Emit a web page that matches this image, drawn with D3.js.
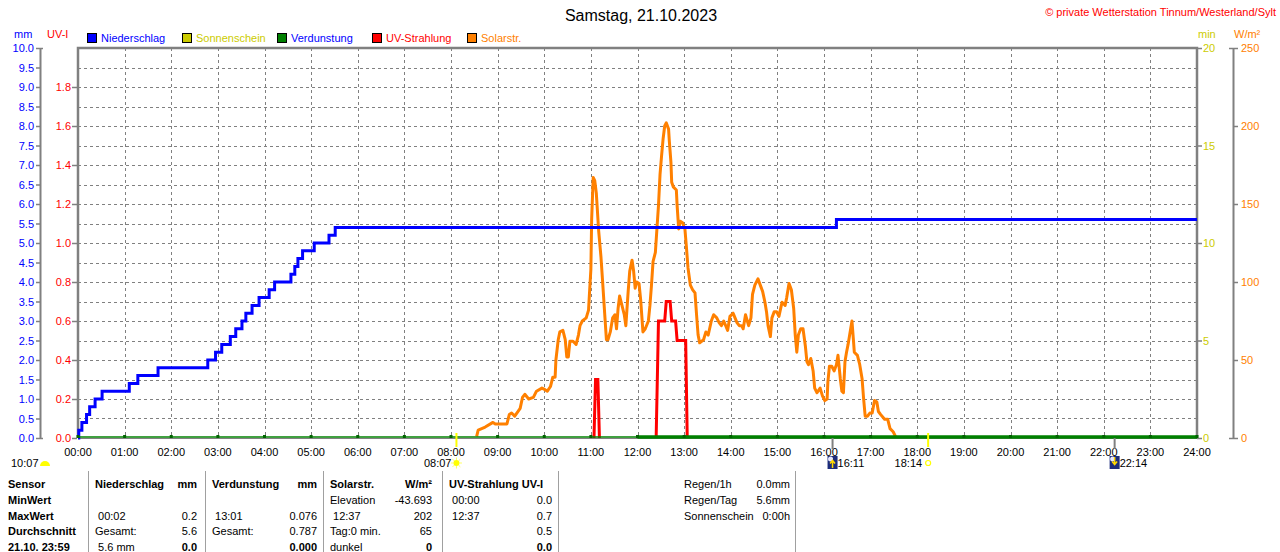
<!DOCTYPE html>
<html>
<head>
<meta charset="utf-8">
<script src="https://cdn.jsdelivr.net/npm/d3@7.9.0/dist/d3.min.js"></script>
<style>
  html, body { margin: 0; padding: 0; background: #fff; }
  svg { display: block; font-family: "Liberation Sans", Arial, sans-serif; font-size: 11px; }
  .axis text { font-size: 11px; }
</style>
</head>
<body>
<svg id="chart" width="1280" height="552"></svg>
<script>
// ---- data ----
const title = 'Samstag, 21.10.2023';
const credit = '\u00a9 private Wetterstation Tinnum/Westerland/Sylt';

const hourLabels = d3.range(0, 25).map(h => String(h).padStart(2, '0') + ':00');

const legendItems = [
  { name: 'Niederschlag', box: '#0000ff', text: '#0000ff' },
  { name: 'Sonnenschein', box: '#cccc00', text: '#cccc00' },
  { name: 'Verdunstung', box: '#008000', text: '#0000ff' },
  { name: 'UV-Strahlung', box: '#ff0000', text: '#ff0000' },
  { name: 'Solarstr.', box: '#ff8000', text: '#ff8000' }
];

// cumulative rain (mm), value valid from that time on
const rain = [
  ['00:00', 0], ['00:01', 0.2], ['00:05', 0.4], ['00:11', 0.6], ['00:15', 0.8],
  ['00:22', 1.0], ['00:31', 1.2], ['01:06', 1.4], ['01:17', 1.6], ['01:43', 1.8],
  ['02:47', 2.0], ['02:57', 2.2], ['03:05', 2.4], ['03:16', 2.6], ['03:23', 2.8],
  ['03:31', 3.0], ['03:36', 3.2], ['03:44', 3.4], ['03:53', 3.6], ['04:06', 3.8],
  ['04:13', 4.0], ['04:34', 4.2], ['04:39', 4.4], ['04:43', 4.6], ['04:49', 4.8],
  ['05:04', 5.0], ['05:23', 5.2], ['05:31', 5.4], ['16:16', 5.6], ['24:00', 5.6]
];

// evaporation, hourly (mm)
const verdHours = d3.range(0, 25);
const verdValues = verdHours.map(() => 0);

// UV index, null = no trace
const uv = [
  ['11:04', 0], ['11:06', 0.3], ['11:09', 0.3], ['11:11', 0], ['11:12', null],
  ['12:24', 0], ['12:27', 0.6], ['12:35', 0.6], ['12:37', 0.7], ['12:42', 0.7],
  ['12:44', 0.6], ['12:49', 0.6], ['12:51', 0.5], ['13:02', 0.5], ['13:04', 0]
];

// solar radiation (W/m²)
const solar = [
  ['08:33', 1], ['08:35', 5], ['08:44', 7], ['08:54', 10], ['08:57', 9], ['09:12', 9],
  ['09:15', 15], ['09:18', 16], ['09:22', 14], ['09:29', 19], ['09:32', 26], ['09:35', 28],
  ['09:40', 25], ['09:46', 26], ['09:50', 30], ['09:57', 32], ['10:01', 31], ['10:04', 30],
  ['10:08', 33], ['10:11', 39], ['10:14', 39], ['10:15', 50], ['10:18', 63], ['10:20', 68],
  ['10:24', 69], ['10:27', 63], ['10:29', 52], ['10:31', 52], ['10:33', 62], ['10:37', 62],
  ['10:41', 60], ['10:44', 66], ['10:46', 72], ['10:49', 75], ['10:54', 77], ['10:57', 82],
  ['10:58', 91], ['11:00', 108], ['11:01', 140], ['11:03', 167], ['11:05', 165], ['11:07', 157],
  ['11:10', 133], ['11:13', 116], ['11:15', 101], ['11:18', 78], ['11:20', 63], ['11:22', 63],
  ['11:25', 68], ['11:28', 77], ['11:31', 79], ['11:33', 70], ['11:35', 83], ['11:37', 91],
  ['11:40', 85], ['11:43', 79], ['11:45', 72], ['11:48', 94], ['11:50', 107], ['11:53', 114],
  ['11:55', 107], ['11:57', 96], ['11:59', 100], ['12:02', 99], ['12:04', 89], ['12:07', 68],
  ['12:10', 70], ['12:14', 75], ['12:16', 85], ['12:18', 98], ['12:20', 113], ['12:23', 119],
  ['12:25', 134], ['12:27', 149], ['12:29', 169], ['12:31', 181], ['12:33', 192], ['12:35', 200],
  ['12:37', 202], ['12:40', 198], ['12:41', 190], ['12:43', 177], ['12:44', 164], ['12:46', 161],
  ['12:50', 159], ['12:51', 149], ['12:53', 134], ['12:55', 139], ['12:58', 138], ['13:01', 134],
  ['13:03', 122], ['13:05', 109], ['13:08', 98], ['13:11', 95], ['13:14', 93], ['13:16', 79],
  ['13:18', 66], ['13:20', 61], ['13:25', 63], ['13:28', 68], ['13:31', 66], ['13:35', 75],
  ['13:38', 79], ['13:42', 77], ['13:45', 74], ['13:48', 72], ['13:51', 75], ['13:56', 69],
  ['13:59', 78], ['14:03', 80], ['14:08', 74], ['14:11', 72], ['14:14', 72], ['14:16', 70],
  ['14:19', 79], ['14:23', 72], ['14:26', 77], ['14:28', 92], ['14:31', 98], ['14:35', 102],
  ['14:38', 98], ['14:41', 94], ['14:44', 87], ['14:46', 81], ['14:48', 72], ['14:51', 65],
  ['14:53', 77], ['14:56', 81], ['14:59', 81], ['15:02', 78], ['15:06', 87], ['15:10', 85],
  ['15:12', 90], ['15:15', 99], ['15:18', 95], ['15:21', 83], ['15:23', 66], ['15:25', 55],
  ['15:27', 66], ['15:30', 70], ['15:33', 70], ['15:36', 59], ['15:38', 49], ['15:40', 47],
  ['15:43', 51], ['15:46', 43], ['15:48', 32], ['15:51', 29], ['15:55', 32], ['15:58', 27],
  ['16:01', 24], ['16:04', 25], ['16:05', 36], ['16:07', 46], ['16:10', 46], ['16:13', 43],
  ['16:16', 47], ['16:18', 53], ['16:21', 38], ['16:23', 30], ['16:25', 29], ['16:27', 49],
  ['16:29', 55], ['16:31', 60], ['16:33', 66], ['16:36', 75], ['16:38', 62], ['16:39', 55],
  ['16:43', 53], ['16:46', 47], ['16:49', 38], ['16:51', 25], ['16:53', 14], ['16:56', 14],
  ['16:59', 16], ['17:02', 16], ['17:05', 24], ['17:08', 23], ['17:10', 17], ['17:13', 15],
  ['17:18', 12], ['17:22', 12], ['17:25', 6], ['17:29', 4], ['17:32', 1]
];

// sun / moon events
const sunrise = '08:07', sunset = '18:14', dayLength = '10:07';
const moonrise = '16:11', moonset = '22:14';

// summary table
const tableCols = [
  { x: 8, right: null },
  { x: 95, right: 197 },
  { x: 212, right: 317 },
  { x: 330, right: 432 },
  { x: 449, right: 552 }
];
const tableRows = [
  [['Sensor', 'b'], ['Niederschlag', 'b', 'mm'], ['Verdunstung', 'b', 'mm'], ['Solarstr.', 'b', 'W/m\u00b2'], ['UV-Strahlung UV-I', 'b', '']],
  [['MinWert', 'b'], ['', '', ''], ['', '', ''], ['Elevation', '', '-43.693'], [' 00:00', '', '0.0']],
  [['MaxWert', 'b'], [' 00:02', '', '0.2'], [' 13:01', '', '0.076'], [' 12:37', '', '202'], [' 12:37', '', '0.7']],
  [['Durchschnitt', 'b'], ['Gesamt:', '', '5.6'], ['Gesamt:', '', '0.787'], ['Tag:0 min.', '', '65'], ['', '', '0.5']],
  [['21.10. 23:59', 'b'], [' 5.6 mm', '', '0.0'], ['', '', '0.000'], ['dunkel', '', '0'], ['', '', '0.0']]
];
const tableSeps = [88, 205, 323, 442, 558, 795];
const sideLabels = ['Regen/1h', 'Regen/Tag', 'Sonnenschein'];
const sideValues = ['0.0mm', '5.6mm', '0:00h'];

// ---- helpers ----
const toMin = s => { const [h, m] = s.split(':').map(Number); return h * 60 + m; };

const svg = d3.select('#chart');
const pLeft = 78, pRight = 1197, pTop = 48, pBottom = 438;

const x = d3.scaleLinear().domain([0, 1440]).range([pLeft, pRight]);
const yMm = d3.scaleLinear().domain([0, 10]).range([pBottom, pTop]);
const yUv = d3.scaleLinear().domain([0, 2]).range([pBottom, pTop]);
const yMin = d3.scaleLinear().domain([0, 20]).range([pBottom, pTop]);
const yW = d3.scaleLinear().domain([0, 250]).range([pBottom, pTop]);

const grey = '#808080';

// ---- title & credit ----
svg.append('text').attr('x', 641).attr('y', 21).attr('text-anchor', 'middle')
  .style('font-size', '16px').attr('fill', '#000').text(title);
svg.append('text').attr('x', 1276).attr('y', 16).attr('text-anchor', 'end')
  .attr('fill', '#ff0000').text(credit);

// unit labels
svg.append('text').attr('x', 14).attr('y', 38).attr('fill', '#0000ff').text('mm');
svg.append('text').attr('x', 47).attr('y', 38).attr('fill', '#ff0000').text('UV-I');
svg.append('text').attr('x', 1198).attr('y', 38).attr('fill', '#cccc00').text('min');
svg.append('text').attr('x', 1234).attr('y', 38).attr('fill', '#ff8000').text('W/m\u00b2');

// legend
const lg = svg.append('g').selectAll('g').data(legendItems).join('g')
  .attr('transform', (d, i) => `translate(${87 + i * 95},33)`);
lg.append('rect').attr('width', 9).attr('height', 9).attr('x', 0.5).attr('y', 0.5)
  .attr('fill', d => d.box).attr('stroke', '#000');
lg.append('text').attr('x', 14).attr('y', 9).attr('fill', d => d.text).text(d => d.name);

// ---- grid ----
const grid = svg.append('g').attr('stroke', grey).attr('stroke-dasharray', '3,3').attr('stroke-width', 1);
grid.selectAll('line.h').data(d3.range(0.5, 10, 0.5)).join('line')
  .attr('x1', pLeft).attr('x2', pRight)
  .attr('y1', d => Math.round(yMm(d)) + 0.5).attr('y2', d => Math.round(yMm(d)) + 0.5);
grid.selectAll('line.v').data(d3.range(1, 24)).join('line').attr('class', 'v')
  .attr('y1', pTop).attr('y2', pBottom)
  .attr('x1', d => Math.round(x(d * 60)) + 0.5).attr('x2', d => Math.round(x(d * 60)) + 0.5);

// ---- axes ----
function styleAxis(g, color) {
  g.selectAll('text').attr('fill', color).style('font-family', '"Liberation Sans", Arial, sans-serif');
  g.selectAll('line').attr('stroke', grey).attr('stroke-width', 1.5);
  g.select('.domain').attr('stroke', grey).attr('stroke-width', 2);
}

const mmAxis = svg.append('g').attr('class', 'axis').attr('transform', 'translate(40,0)')
  .call(d3.axisLeft(yMm).tickValues(d3.range(0, 10.01, 0.5)).tickSize(4).tickSizeOuter(0)
    .tickPadding(2).tickFormat(d3.format('.1f')));
styleAxis(mmAxis, '#0000ff');
mmAxis.selectAll('.tick line').filter(d => d === 0 || d === 10).attr('x2', 3).attr('x1', -4);

const uvAxis = svg.append('g').attr('class', 'axis').attr('transform', 'translate(77,0)')
  .call(d3.axisLeft(yUv).tickValues(d3.range(0, 1.81, 0.2)).tickSize(5).tickPadding(1)
    .tickFormat(d3.format('.1f')));
styleAxis(uvAxis, '#ff0000');
uvAxis.select('.domain').remove();

const minAxis = svg.append('g').attr('class', 'axis').attr('transform', `translate(${pRight},0)`)
  .call(d3.axisRight(yMin).tickValues([0, 5, 10, 15, 20]).tickSize(5).tickPadding(1));
styleAxis(minAxis, '#cccc00');
minAxis.select('.domain').remove();

const wAxis = svg.append('g').attr('class', 'axis').attr('transform', 'translate(1233,0)')
  .call(d3.axisRight(yW).tickValues(d3.range(0, 251, 50)).tickSize(5).tickSizeOuter(0).tickPadding(3));
styleAxis(wAxis, '#ff8000');
wAxis.selectAll('.tick line').filter(d => d === 0 || d === 250).attr('x1', -4);

// x axis labels
svg.append('g').selectAll('text').data(hourLabels).join('text')
  .attr('x', (d, i) => x(i * 60)).attr('y', 456).attr('text-anchor', 'middle')
  .attr('fill', '#000').text(d => d);

// ---- plot frame ----
svg.append('line').attr('x1', pLeft).attr('x2', pRight).attr('y1', pBottom + 0.5).attr('y2', pBottom + 0.5)
  .attr('stroke', grey).attr('stroke-width', 1);
svg.append('path').attr('d', `M${pLeft},${pBottom}V${pTop}H${pRight}V${pBottom}`)
  .attr('fill', 'none').attr('stroke', grey).attr('stroke-width', 2.5);

// ---- series ----
const solarLine = d3.line().x(d => x(toMin(d[0]))).y(d => yW(d[1]));
svg.append('path').datum(solar).attr('d', solarLine)
  .attr('fill', 'none').attr('stroke', '#ff8000').attr('stroke-width', 3).attr('stroke-linejoin', 'round');

const uvLine = d3.line().defined(d => d[1] !== null).x(d => x(toMin(d[0]))).y(d => yUv(d[1]));
svg.append('path').datum(uv).attr('d', uvLine)
  .attr('fill', 'none').attr('stroke', '#ff0000').attr('stroke-width', 3);

const rainLine = d3.line().curve(d3.curveStepAfter).x(d => x(toMin(d[0]))).y(d => yMm(d[1]));
svg.append('path').datum(rain).attr('d', rainLine)
  .attr('fill', 'none').attr('stroke', '#0000ff').attr('stroke-width', 3);

// evaporation: thin before noon, heavier after
const verd = verdHours.map((h, i) => [h, verdValues[i]]);
const verdLine = d3.line().x(d => x(d[0] * 60)).y(d => yMm(d[1]) - 1);
svg.append('path').datum(verd.filter(d => d[0] <= 12)).attr('d', verdLine)
  .attr('fill', 'none').attr('stroke', '#008000').attr('stroke-width', 1.5);
svg.append('path').datum(verd.filter(d => d[0] >= 12)).attr('d', verdLine)
  .attr('fill', 'none').attr('stroke', '#008000').attr('stroke-width', 3.5);
svg.append('g').selectAll('rect').data(verd).join('rect')
  .attr('x', d => x(d[0] * 60) - 1.5).attr('y', d => yMm(d[1]) - 3)
  .attr('width', 3).attr('height', 3).attr('fill', '#006400');

// ---- sun / moon markers ----
[sunrise, sunset].forEach(t => {
  svg.append('line').attr('x1', x(toMin(t))).attr('x2', x(toMin(t)))
    .attr('y1', 433).attr('y2', 447).attr('stroke', '#ffff00').attr('stroke-width', 2);
});
[moonrise, moonset].forEach(t => {
  svg.append('line').attr('x1', x(toMin(t))).attr('x2', x(toMin(t)))
    .attr('y1', 438).attr('y2', 449).attr('stroke', grey).attr('stroke-width', 2);
});

const yEv = 467;
// day length
svg.append('text').attr('x', 11).attr('y', yEv).attr('fill', '#000').text(dayLength);
svg.append('path').attr('d', d3.arc()({ innerRadius: 0, outerRadius: 5, startAngle: -Math.PI / 2, endAngle: Math.PI / 2 }))
  .attr('transform', `translate(45,${yEv - 1})`).attr('fill', '#ffff00');

// sunrise
const xr = x(toMin(sunrise));
svg.append('text').attr('x', xr - 5).attr('y', yEv).attr('text-anchor', 'end').attr('fill', '#000').text(sunrise);
const sun = svg.append('g').attr('transform', `translate(${xr},${yEv - 4})`);
sun.selectAll('line').data(d3.range(0, 8)).join('line')
  .attr('x1', d => 3 * Math.cos(d * Math.PI / 4)).attr('y1', d => 3 * Math.sin(d * Math.PI / 4))
  .attr('x2', d => 5.5 * Math.cos(d * Math.PI / 4)).attr('y2', d => 5.5 * Math.sin(d * Math.PI / 4))
  .attr('stroke', '#ffff60').attr('stroke-width', 1);
sun.append('circle').attr('r', 3).attr('fill', '#ffff00');

// sunset
const xs = x(toMin(sunset));
svg.append('text').attr('x', xs - 6).attr('y', yEv).attr('text-anchor', 'end').attr('fill', '#000').text(sunset);
svg.append('circle').attr('cx', xs).attr('cy', yEv - 4).attr('r', 2.5)
  .attr('fill', 'none').attr('stroke', '#ffff00').attr('stroke-width', 1.2);

// moon rise / set
function moonIcon(t, up) {
  const mx = x(toMin(t));
  const g = svg.append('g').attr('transform', `translate(${mx - 5},${yEv - 11})`);
  g.append('rect').attr('width', 10).attr('height', 13).attr('fill', '#1c2c7c');
  g.append('circle').attr('cx', 3).attr('cy', 3).attr('r', 2.5).attr('fill', '#e8e8ff');
  const arrow = up ? 'M5,12V5M2.5,7.5L5,4.5L7.5,7.5' : 'M5,1V8M2.5,5.5L5,8.5L7.5,5.5';
  g.append('path').attr('d', arrow).attr('fill', 'none').attr('stroke', '#ffd800').attr('stroke-width', 1.5);
  svg.append('text').attr('x', mx + 5).attr('y', yEv).attr('fill', '#000').text(t);
}
moonIcon(moonrise, true);
moonIcon(moonset, false);

// ---- table ----
svg.append('g').selectAll('line').data(tableSeps).join('line')
  .attr('x1', d => d + 0.5).attr('x2', d => d + 0.5).attr('y1', 471).attr('y2', 552)
  .attr('stroke', '#a0a0a0').attr('stroke-width', 1);

tableRows.forEach((row, r) => {
  const ty = 488 + r * 15.8;
  row.forEach((cell, c) => {
    const col = tableCols[c];
    const bold = cell[1] === 'b';
    if (cell[0]) {
      svg.append('text').attr('x', col.x).attr('y', ty).attr('fill', '#000')
        .attr('xml:space', 'preserve').style('white-space', 'pre')
        .style('font-weight', bold ? 'bold' : 'normal').text(cell[0]);
    }
    if (col.right && cell[2]) {
      svg.append('text').attr('x', col.right).attr('y', ty).attr('text-anchor', 'end').attr('fill', '#000')
        .style('font-weight', (r === 0 || r === 4) ? 'bold' : 'normal').text(cell[2]);
    }
  });
});

sideLabels.forEach((l, i) => {
  svg.append('text').attr('x', 684).attr('y', 488 + i * 16).attr('fill', '#000').text(l);
  svg.append('text').attr('x', 790).attr('y', 488 + i * 16).attr('text-anchor', 'end').attr('fill', '#000').text(sideValues[i]);
});
</script>
</body>
</html>
